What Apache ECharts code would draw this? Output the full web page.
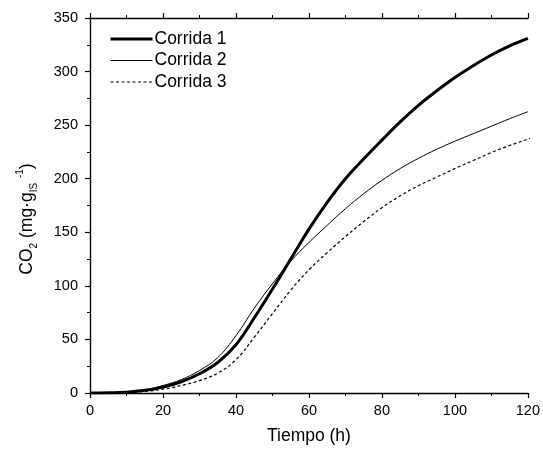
<!DOCTYPE html>
<html>
<head>
<meta charset="utf-8">
<script src="https://cdn.jsdelivr.net/npm/echarts@6/dist/echarts.min.js"></script>
<style>html,body{margin:0;padding:0;background:#fff}#c{width:543px;height:450px}</style>
</head>
<body>
<div id="c"></div>
<script>
const seriesNames = ['Corrida 1', 'Corrida 2', 'Corrida 3'];
const tiempo = [0,5,10,15,20,25,30,35,40,45,50,55,60,65,70,75,80,85,90,95,100,105,110,115,120];
const corrida1 = [0,0.2,0.8,2.5,5.5,10.5,18,28.5,45,70,97,125,153,178,200,218.5,236,253,268.5,282,294.5,305.5,315.5,324,331];
const corrida2 = [0,0.2,1,3,7,12.5,21,33,53.5,79,102,123,140.5,156.5,172,186,198.5,209.5,219,227.5,235,242,249,256,262.5];
const tiempo3 = [0,5,10,15,20,25,30,35,40,45,50,55,60,65,70,75,80,85,90,95,100,105,110,115,120,121.5];
const corrida3 = [0,0.1,0.4,1.5,3.5,7,11.5,18.5,31,52,74,96,115,131,146,160,173,184,193.5,201.5,209.5,217,224.5,231,237,239];
const xTicks = [0,20,40,60,80,100,120];
const yTicks = [0,50,100,150,200,250,300,350];

const pair = (xs, ys) => xs.map((x, i) => [x, ys[i]]);
const font = 'Liberation Sans, Arial, sans-serif';
const chart = echarts.init(document.getElementById('c'), null, {renderer: 'canvas'});
const axisLine = {show: true, lineStyle: {color: '#000', width: 1.4}};
const tick = {show: true, inside: false, length: 5, lineStyle: {color: '#000', width: 1.2}};
const minor = {show: true, splitNumber: 2, length: 3, lineStyle: {color: '#000', width: 1}};
const styles = [
  {color: '#000', width: 3, type: 'solid'},
  {color: '#000', width: 1, type: 'solid'},
  {color: '#000', width: 1.2, type: [3, 2.5]}
];
chart.setOption({
  animation: false,
  backgroundColor: '#fff',
  grid: {left: 90, right: 9, top: 18, bottom: 57, containLabel: false},
  legend: {
    data: seriesNames.map((n, i) => ({name: n, lineStyle: styles[i]})),
    orient: 'vertical',
    left: 109, top: 30,
    padding: 0,
    itemWidth: 42, itemHeight: 16, itemGap: 3.5,
    itemStyle: {color: 'rgba(0,0,0,0)', borderColor: 'rgba(0,0,0,0)', borderWidth: 0, opacity: 0},
    textStyle: {fontFamily: font, fontSize: 17.5, color: '#000', padding: [0,0,0,-3]}
  },
  xAxis: [{
    type: 'value', min: 0, max: 120, interval: 20,
    name: 'Tiempo (h)', nameLocation: 'middle', nameGap: 34,
    nameTextStyle: {fontFamily: font, fontSize: 17.5, color: '#000'},
    axisLine: axisLine, axisTick: tick, minorTick: minor,
    splitLine: {show: false},
    axisLabel: {fontFamily: font, fontSize: 14.5, color: '#000', margin: 10,
      formatter: v => xTicks.includes(v) ? String(v) : ''}
  }, {
    type: 'value', min: 0, max: 120, interval: 20, position: 'top',
    axisLine: axisLine, axisTick: tick, minorTick: minor,
    splitLine: {show: false},
    axisLabel: {show: false}
  }],
  yAxis: {
    type: 'value', min: 0, max: 350, interval: 50,
    name: '{n|CO}{sub|2}{n| (mg·g}{sub|IS}{n| }{sup|-1}{n|)}',
    nameLocation: 'middle', nameGap: 51, nameRotate: 90,
    nameTextStyle: {
      fontFamily: font, fontSize: 17.5, color: '#000',
      padding: [0, 27, 0, 0],
      rich: {
        n: {fontFamily: font, fontSize: 17.5, color: '#000', lineHeight: 24, verticalAlign: 'middle'},
        sub: {fontFamily: font, fontSize: 10, color: '#000', lineHeight: 24, verticalAlign: 'bottom', padding: [7,0,0,0]},
        sup: {fontFamily: font, fontSize: 10, color: '#000', lineHeight: 24, verticalAlign: 'top', padding: [0,0,7,0]}
      }
    },
    axisLine: axisLine, axisTick: tick, minorTick: minor,
    splitLine: {show: false},
    axisLabel: {fontFamily: font, fontSize: 14.5, color: '#000', margin: 12,
      formatter: v => yTicks.includes(v) ? String(v) : ''}
  },
  series: [
    {name: seriesNames[0], type: 'line', smooth: 0.4, symbol: 'none', showSymbol: false,
     data: pair(tiempo, corrida1), lineStyle: styles[0], itemStyle: {color: '#000'}},
    {name: seriesNames[1], type: 'line', smooth: 0.4, symbol: 'none', showSymbol: false,
     data: pair(tiempo, corrida2), lineStyle: styles[1], itemStyle: {color: '#000'}},
    {name: seriesNames[2], type: 'line', smooth: 0.4, symbol: 'none', showSymbol: false, clip: false,
     data: pair(tiempo3, corrida3), lineStyle: styles[2], itemStyle: {color: '#000'}}
  ]
});
</script>
</body>
</html>
